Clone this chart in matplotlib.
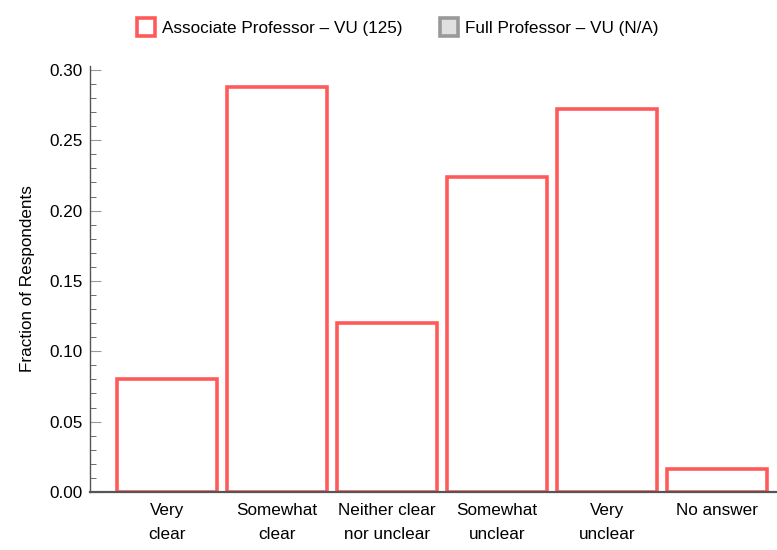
import numpy as np
import matplotlib.pyplot as plt
from matplotlib.lines import Line2D
from matplotlib.ticker import MultipleLocator

plt.rcParams['font.family'] = ['Liberation Sans', 'DejaVu Sans']

categories = ["Very\nclear", "Somewhat\nclear", "Neither clear\nnor unclear",
              "Somewhat\nunclear", "Very\nunclear", "No answer"]
assoc_vu = [0.08, 0.288, 0.12, 0.224, 0.272, 0.016]
series_names = ["Associate Professor \u2013 VU (125)", "Full Professor \u2013 VU (N/A)"]

red = "#ff5a5a"
axis_col = "#555555"
fs = 12.3

fig = plt.figure(figsize=(7.77, 5.5), dpi=100)
ax = fig.add_axes([0.1158, 0.1055, 0.8842, 0.7745])

x = np.arange(len(categories))
ax.bar(x, assoc_vu, width=0.909, facecolor="white", edgecolor=red, linewidth=2.6, zorder=2)

ax.set_xlim(-0.7, 5.545)
ax.set_ylim(0, 0.3028)
ax.set_xticks(x)
ax.set_xticklabels(categories, fontsize=fs, linespacing=1.75, va="top")
ax.yaxis.set_major_locator(MultipleLocator(0.05))
ax.yaxis.set_minor_locator(MultipleLocator(0.01))
ax.set_yticklabels([f"{v:.2f}" for v in ax.get_yticks()], fontsize=fs)
ax.tick_params(axis="y", which="major", direction="in", length=8, color="#999999", pad=5)
ax.tick_params(axis="y", which="minor", direction="in", length=4, color=axis_col)
ax.tick_params(axis="x", direction="in", length=4, color=axis_col, pad=8)
ax.set_ylabel("Fraction of Respondents", fontsize=fs, labelpad=11)

for s in ["top", "right"]:
    ax.spines[s].set_visible(False)
for s in ["left", "bottom"]:
    ax.spines[s].set_color(axis_col)
    ax.spines[s].set_linewidth(1.0)
    ax.spines[s].set_zorder(3)
ax.spines["bottom"].set_linewidth(1.6)

handles = [
    Line2D([], [], marker="s", linestyle="none", markersize=13,
           markerfacecolor="white", markeredgecolor=red, markeredgewidth=2.6),
    Line2D([], [], marker="s", linestyle="none", markersize=13,
           markerfacecolor="#e0e0e0", markeredgecolor="#999999", markeredgewidth=2.6),
]
fig.legend(handles, series_names, loc="upper center", bbox_to_anchor=(0.512, 0.99),
           ncol=2, frameon=False, fontsize=fs, handlelength=1.0,
           handletextpad=0.45, columnspacing=2.2)

fig.savefig("out.png", dpi=100)
